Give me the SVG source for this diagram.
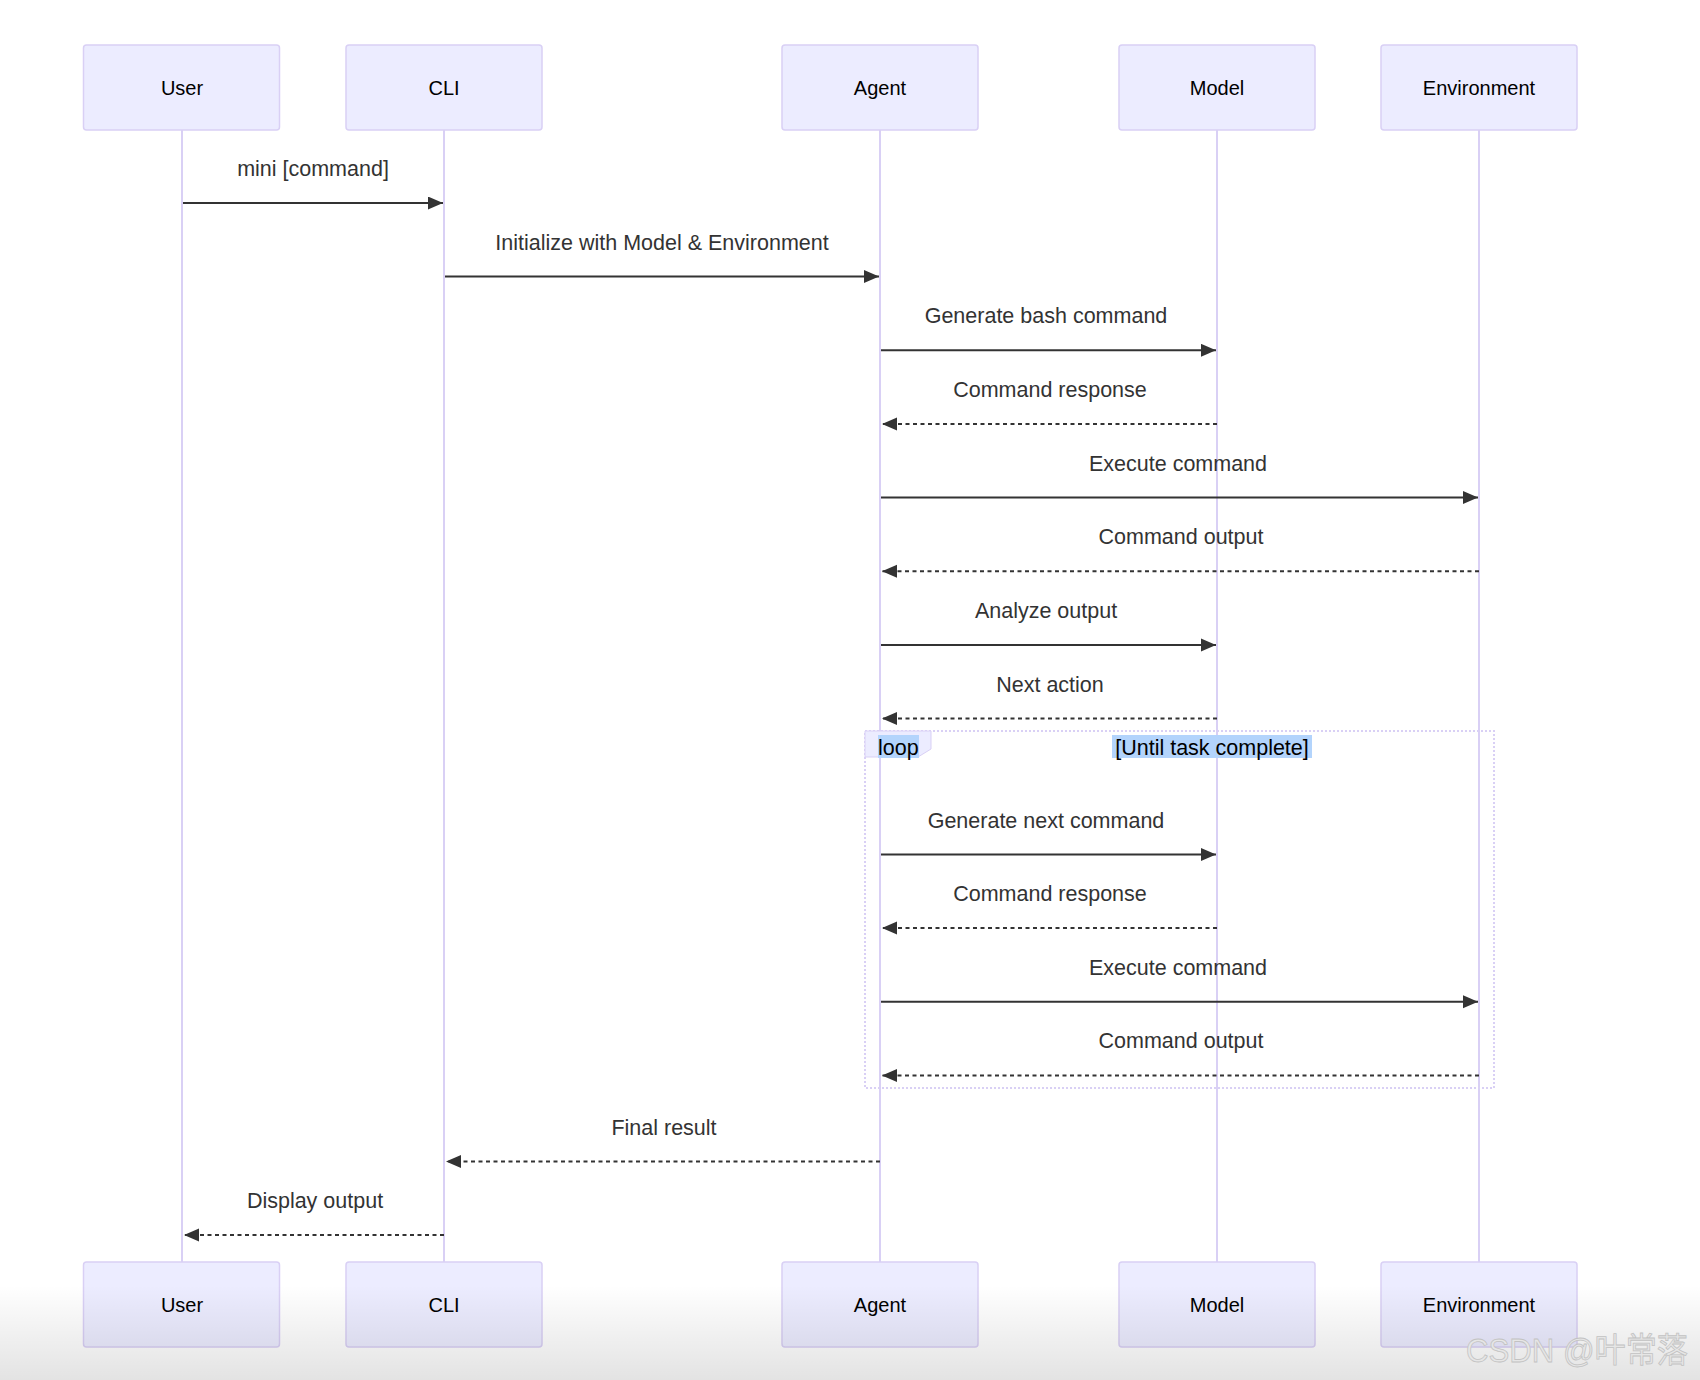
<svg xmlns="http://www.w3.org/2000/svg" width="1700" height="1380" viewBox="0 0 1700 1380">
<defs>
<style>
.actor{fill:#ECECFF;stroke:#D9D0F5;stroke-width:1.5}
.alabel{font-family:"Liberation Sans",Arial,sans-serif;font-size:20px;fill:#000;text-anchor:middle}
.life{stroke:#D9D0F5;stroke-width:2}
.msg{stroke:#333;stroke-width:2;fill:none}
.dash{stroke-dasharray:4 3.5}
.mtext{font-family:"Liberation Sans",Arial,sans-serif;font-size:21.5px;fill:#333;text-anchor:middle}
.looptext{font-family:"Liberation Sans",Arial,sans-serif;font-size:21.5px;fill:#000}
.hl{fill:#B3D4FC}
</style>
<marker id="arrow" markerUnits="userSpaceOnUse" markerWidth="16" markerHeight="14" refX="15" refY="6.5" orient="auto">
<path d="M0,0 L15,6.5 L0,13 z" fill="#333"/>
</marker>
<linearGradient id="shade" x1="0" y1="0" x2="0" y2="1">
<stop offset="0" stop-color="#000" stop-opacity="0"/>
<stop offset="1" stop-color="#000" stop-opacity="0.11"/>
</linearGradient>
</defs>
<rect width="1700" height="1380" fill="#fff"/>

<g id="lifelines">
<line class="life" x1="182" y1="130" x2="182" y2="1262"/>
<line class="life" x1="444" y1="130" x2="444" y2="1262"/>
<line class="life" x1="880" y1="130" x2="880" y2="1262"/>
<line class="life" x1="1217" y1="130" x2="1217" y2="1262"/>
<line class="life" x1="1479" y1="130" x2="1479" y2="1262"/>
</g>

<g id="loop">
<rect x="865" y="731" width="629" height="357" fill="none" stroke="#D9D0F5" stroke-width="2" stroke-dasharray="2 2"/>
<polygon points="865,731 931,731 931,749 918,757 865,757" fill="#ECECFF" stroke="#D9D0F5" stroke-width="1"/>
<rect class="hl" x="878" y="735" width="41" height="23"/>
<text class="looptext" x="878" y="754.5">loop</text>
<rect class="hl" x="1112" y="735" width="200" height="23"/>
<text class="looptext" x="1212" y="754.5" text-anchor="middle">[Until task complete]</text>
</g>

<g id="connectors">
<line class="msg" x1="183" y1="203" x2="443" y2="203" marker-end="url(#arrow)"/>
<text class="mtext" x="313" y="176">mini [command]</text>
<line class="msg" x1="445" y1="276.6" x2="879" y2="276.6" marker-end="url(#arrow)"/>
<text class="mtext" x="662" y="249.6">Initialize with Model &amp; Environment</text>
<line class="msg" x1="881" y1="350.3" x2="1216" y2="350.3" marker-end="url(#arrow)"/>
<text class="mtext" x="1046" y="323.3">Generate bash command</text>
<line class="msg dash" x1="1217" y1="424" x2="882" y2="424" marker-end="url(#arrow)"/>
<text class="mtext" x="1050" y="397">Command response</text>
<line class="msg" x1="881" y1="497.6" x2="1478" y2="497.6" marker-end="url(#arrow)"/>
<text class="mtext" x="1178" y="470.6">Execute command</text>
<line class="msg dash" x1="1479" y1="571.2" x2="882" y2="571.2" marker-end="url(#arrow)"/>
<text class="mtext" x="1181" y="544.2">Command output</text>
<line class="msg" x1="881" y1="644.9" x2="1216" y2="644.9" marker-end="url(#arrow)"/>
<text class="mtext" x="1046" y="617.9">Analyze output</text>
<line class="msg dash" x1="1217" y1="718.5" x2="882" y2="718.5" marker-end="url(#arrow)"/>
<text class="mtext" x="1050" y="691.5">Next action</text>
<line class="msg" x1="881" y1="854.5" x2="1216" y2="854.5" marker-end="url(#arrow)"/>
<text class="mtext" x="1046" y="827.5">Generate next command</text>
<line class="msg dash" x1="1217" y1="928" x2="882" y2="928" marker-end="url(#arrow)"/>
<text class="mtext" x="1050" y="901">Command response</text>
<line class="msg" x1="881" y1="1001.7" x2="1478" y2="1001.7" marker-end="url(#arrow)"/>
<text class="mtext" x="1178" y="974.7">Execute command</text>
<line class="msg dash" x1="1479" y1="1075.4" x2="882" y2="1075.4" marker-end="url(#arrow)"/>
<text class="mtext" x="1181" y="1048.4">Command output</text>
<line class="msg dash" x1="880" y1="1161.5" x2="446" y2="1161.5" marker-end="url(#arrow)"/>
<text class="mtext" x="664" y="1134.5">Final result</text>
<line class="msg dash" x1="444" y1="1235" x2="184" y2="1235" marker-end="url(#arrow)"/>
<text class="mtext" x="315" y="1208">Display output</text>
</g>

<g id="user-top"><rect class="actor" x="83.5" y="45" width="196" height="85" rx="3"/><text class="alabel" x="182" y="95">User</text></g>
<g id="cli-top"><rect class="actor" x="346" y="45" width="196" height="85" rx="3"/><text class="alabel" x="444" y="95">CLI</text></g>
<g id="agent-top"><rect class="actor" x="782" y="45" width="196" height="85" rx="3"/><text class="alabel" x="880" y="95">Agent</text></g>
<g id="model-top"><rect class="actor" x="1119" y="45" width="196" height="85" rx="3"/><text class="alabel" x="1217" y="95">Model</text></g>
<g id="env-top"><rect class="actor" x="1381" y="45" width="196" height="85" rx="3"/><text class="alabel" x="1479" y="95">Environment</text></g>

<g id="user-bottom"><rect class="actor" x="83.5" y="1262" width="196" height="85" rx="3"/><text class="alabel" x="182" y="1312">User</text></g>
<g id="cli-bottom"><rect class="actor" x="346" y="1262" width="196" height="85" rx="3"/><text class="alabel" x="444" y="1312">CLI</text></g>
<g id="agent-bottom"><rect class="actor" x="782" y="1262" width="196" height="85" rx="3"/><text class="alabel" x="880" y="1312">Agent</text></g>
<g id="model-bottom"><rect class="actor" x="1119" y="1262" width="196" height="85" rx="3"/><text class="alabel" x="1217" y="1312">Model</text></g>
<g id="env-bottom"><rect class="actor" x="1381" y="1262" width="196" height="85" rx="3"/><text class="alabel" x="1479" y="1312">Environment</text></g>

<rect x="0" y="1285" width="1700" height="95" fill="url(#shade)"/>
<text x="1466" y="1362" font-family="'Liberation Sans','Noto Sans CJK SC',sans-serif" font-size="34" textLength="222" lengthAdjust="spacingAndGlyphs" fill="#e6e6e6" stroke="#c2c2c2" stroke-width="0.8">CSDN @叶常落</text>
</svg>
